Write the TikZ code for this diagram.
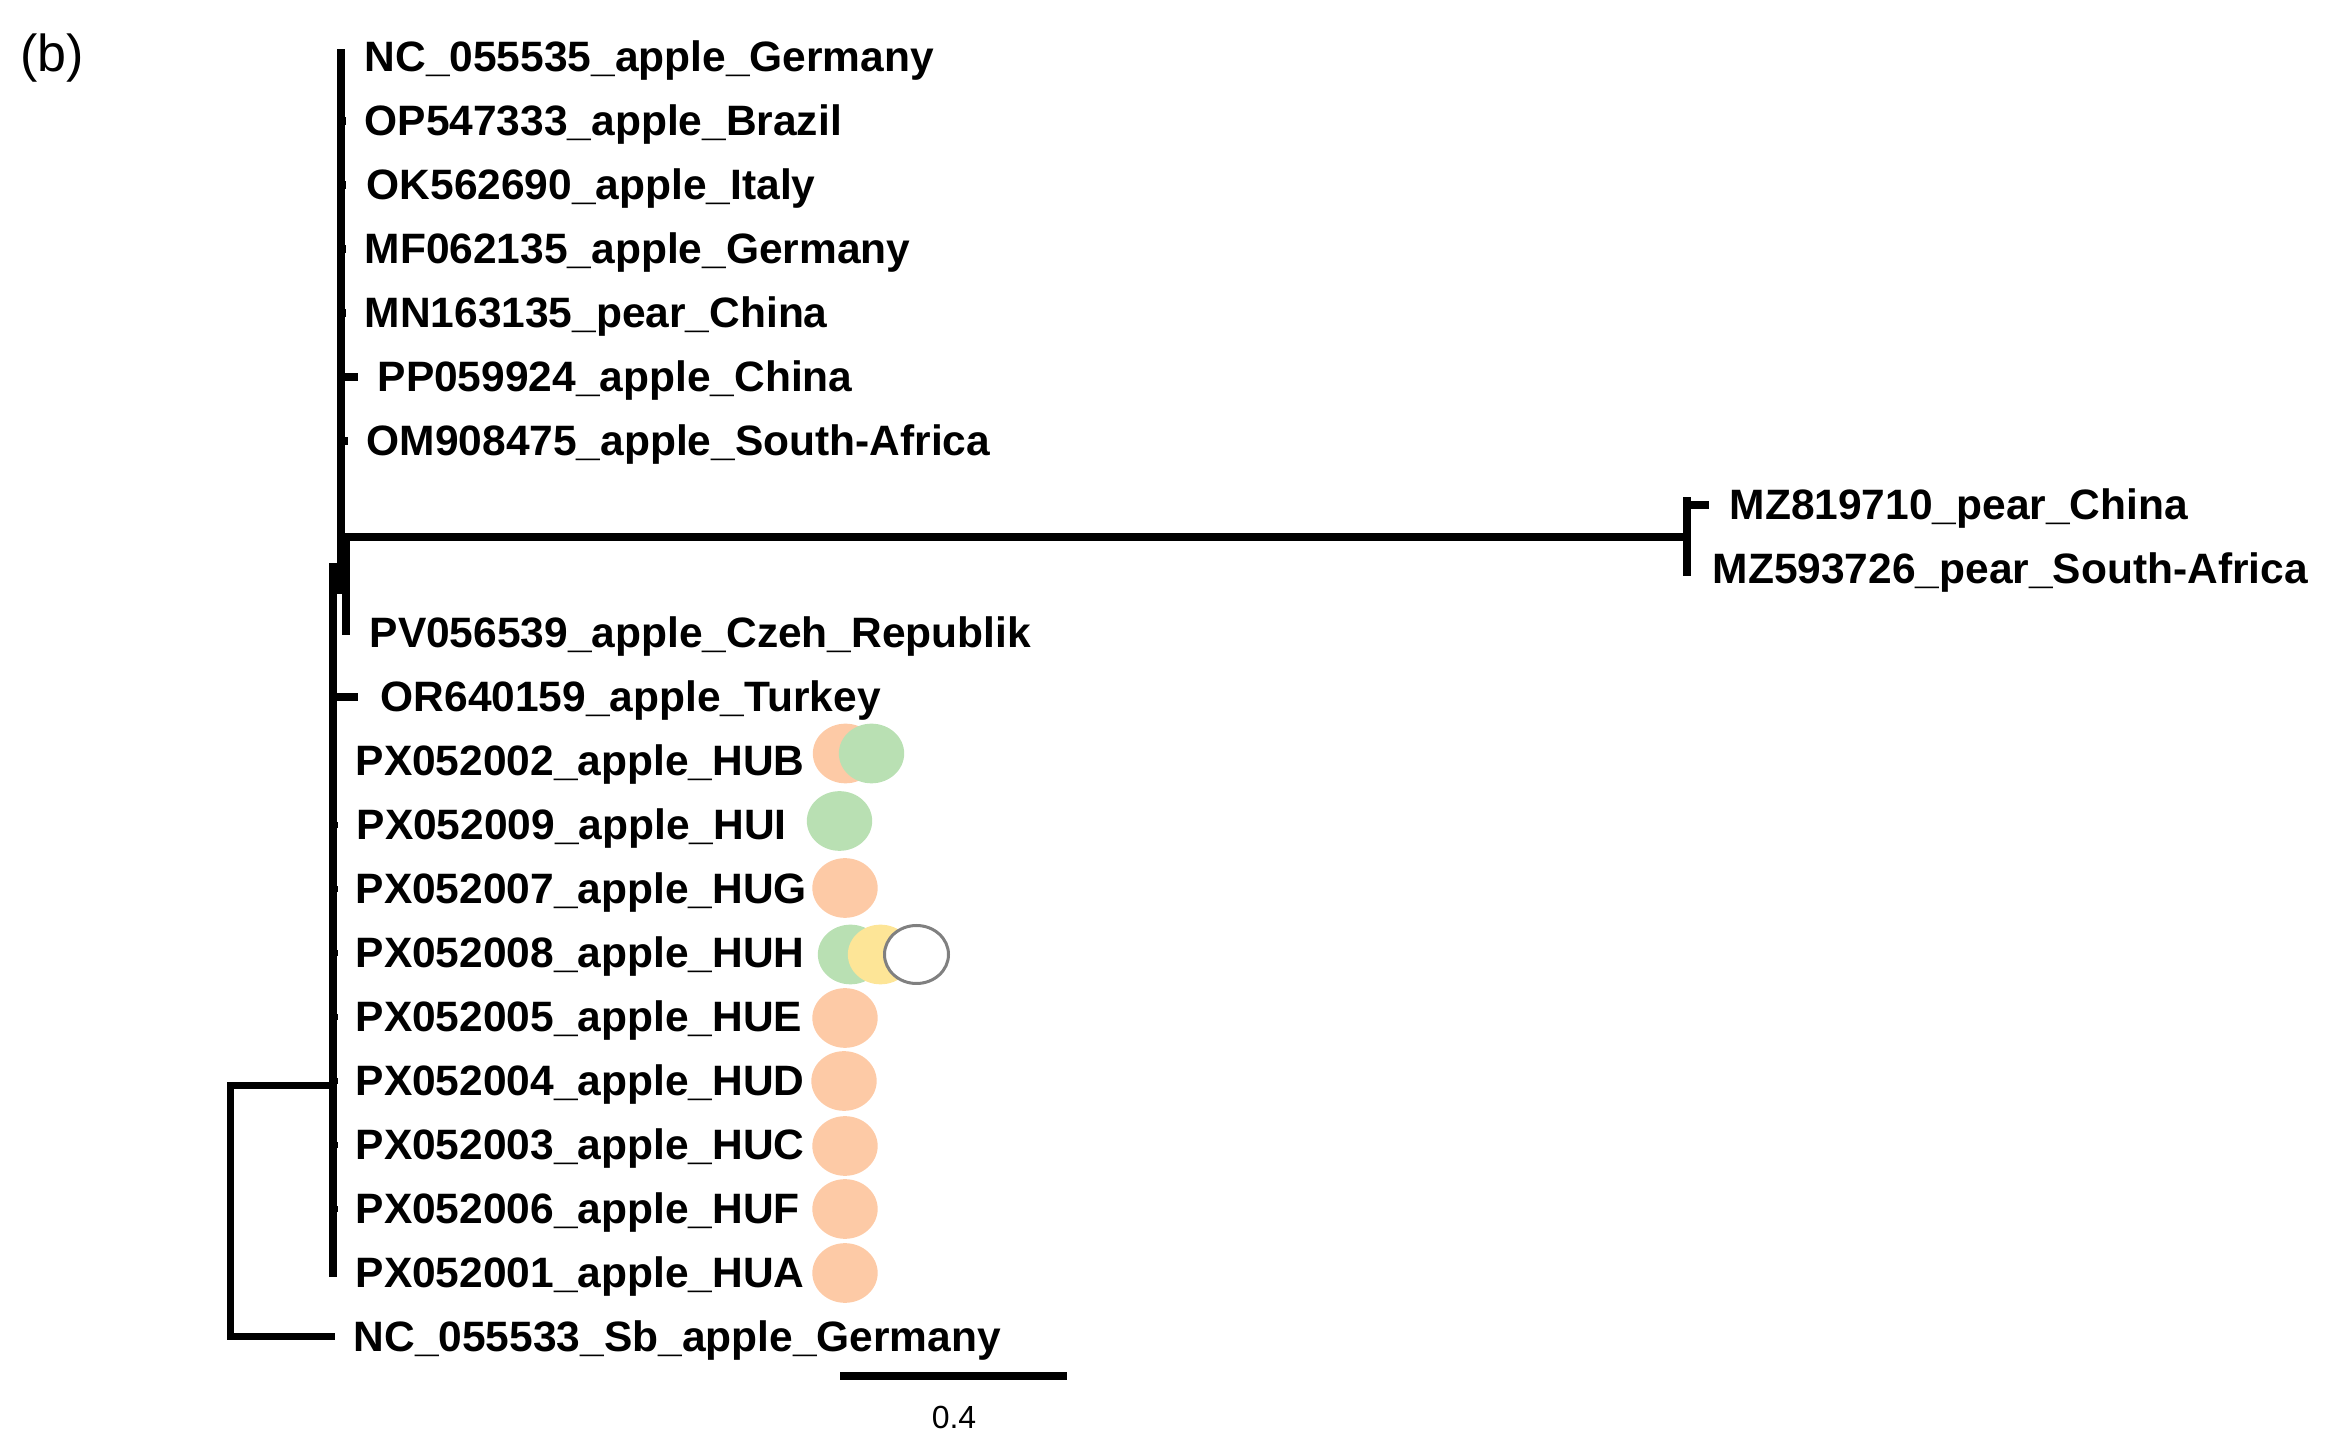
\documentclass[tikz,border=0pt]{standalone}
\usepackage{fontspec}
\setmainfont{Liberation Sans}
\usetikzlibrary{shapes.geometric}
\definecolor{peach}{HTML}{FDCAA6}
\definecolor{leaf}{HTML}{B9E0B3}
\definecolor{straw}{HTML}{FDE597}
\definecolor{rimgray}{HTML}{808080}
\tikzset{
  taxon/.style={anchor=base west,inner sep=0pt,font=\fontsize{12.75}{15}\selectfont\bfseries},
  branch/.style={line width=2.25pt,line cap=rect},
  rootbranch/.style={line width=2.1pt},
  dot/.style={ellipse,inner sep=0pt,minimum width=19.6pt,minimum height=17.9pt},
  peachdot/.style={dot,fill=peach},
  greendot/.style={dot,fill=leaf},
  yellowdot/.style={dot,fill=straw},
  emptydot/.style={dot,minimum width=19.2pt,minimum height=17.4pt,fill=white,draw=rimgray,line width=0.9pt}
}
\begin{document}
\begin{tikzpicture}[x=0.3pt,y=-0.3pt]
\useasboundingbox (0,0) rectangle (2337,1455);
% panel label
\node[anchor=base west,inner sep=0pt,font=\fontsize{15.6}{18}\selectfont] (panel) at (20,72) {(b)};
% taxa (baseline = row centre + 15)
\node[taxon] (t0)  at (364,72)   {NC\_055535\_apple\_Germany};
\node[taxon] (t1)  at (364,136)  {OP547333\_apple\_Brazil};
\node[taxon] (t2)  at (366,200)  {OK562690\_apple\_Italy};
\node[taxon] (t3)  at (364,264)  {MF062135\_apple\_Germany};
\node[taxon] (t4)  at (364,328)  {MN163135\_pear\_China};
\node[taxon] (t5)  at (377,392)  {PP059924\_apple\_China};
\node[taxon] (t6)  at (366,456)  {OM908475\_apple\_South-Africa};
\node[taxon] (t7)  at (1729,520) {MZ819710\_pear\_China};
\node[taxon] (t8)  at (1712,584) {MZ593726\_pear\_South-Africa};
\node[taxon] (t9)  at (369,648)  {PV056539\_apple\_Czeh\_Republik};
\node[taxon] (t10) at (380,712)  {OR640159\_apple\_Turkey};
\node[taxon] (t11) at (355,776)  {PX052002\_apple\_HUB};
\node[taxon] (t12) at (356,840)  {PX052009\_apple\_HUI};
\node[taxon] (t13) at (355,904)  {PX052007\_apple\_HUG};
\node[taxon] (t14) at (355,968)  {PX052008\_apple\_HUH};
\node[taxon] (t15) at (355,1032) {PX052005\_apple\_HUE};
\node[taxon] (t16) at (355,1096) {PX052004\_apple\_HUD};
\node[taxon] (t17) at (355,1160) {PX052003\_apple\_HUC};
\node[taxon] (t18) at (355,1224) {PX052006\_apple\_HUF};
\node[taxon] (t19) at (355,1288) {PX052001\_apple\_HUA};
\node[taxon] (t20) at (353,1352) {NC\_055533\_Sb\_apple\_Germany};
% tree coordinates
\coordinate (aTop) at (341,53);
\coordinate (aBot) at (341,590);
\coordinate (bTop) at (346,537);
\coordinate (bBot) at (346,635);
\coordinate (farNode) at (1687,537);
\coordinate (farTop) at (1687,501);
\coordinate (farBot) at (1687,572);
\coordinate (farTip) at (1709,505);
\coordinate (farMid) at (1687,505);
\coordinate (cTop) at (333,563);
\coordinate (cBot) at (333,1277);
\coordinate (cJoin) at (333,1086);
\coordinate (rTop) at (230,1086);
\coordinate (rBot) at (230,1337);
\coordinate (outTip) at (335,1337);
% main clusters
\draw[branch] (aTop) -- (aBot);
\draw[line width=2.25pt] (bBot) -- (bTop) -- (farNode);
\draw[branch] (farTop) -- (farBot);
\draw[line width=2.25pt] (farMid) -- (farTip);
\draw[line width=2.4pt] (cTop) -- (cBot);
% small tip branches
\foreach \yy in {121,185,249,313} \draw[line width=2.25pt] (341,\yy) -- (346,\yy);
\draw[line width=2.25pt] (341,377) -- (358,377);
\draw[line width=2.25pt] (341,441) -- (348,441);
\draw[line width=2.25pt] (333,697) -- (358,697);
\foreach \yy in {825,889,953,1017,1081,1145,1209} \draw[line width=2pt] (333,\yy) -- (338,\yy);
% root
\draw[rootbranch] (cJoin) -- (rTop) -- (rBot) -- (outTip);
% scale bar
\coordinate (sL) at (840,1376);
\coordinate (sR) at (1067,1376);
\draw[line width=2.3pt] (sL) -- (sR);
\node[anchor=base,inner sep=0pt,font=\fontsize{9.6}{11}\selectfont] (scale) at (954,1429) {0.4};
% host markers
\node[peachdot] (hubA) at (845.5,753.5) {};
\node[greendot] (hubB) at (871.5,753.5) {};
\node[greendot] (hui) at (839.5,821) {};
\node[peachdot] (hug) at (845,888) {};
\node[greendot] (huhA) at (850.5,954.5) {};
\node[yellowdot] (huhB) at (880.5,954.5) {};
\node[emptydot] (huhC) at (916.5,954.5) {};
\node[peachdot] (hue) at (845,1018) {};
\node[peachdot] (hud) at (844,1081) {};
\node[peachdot] (huc) at (845,1146) {};
\node[peachdot] (huf) at (845,1209) {};
\node[peachdot] (hua) at (845,1273) {};
\end{tikzpicture}
\end{document}
